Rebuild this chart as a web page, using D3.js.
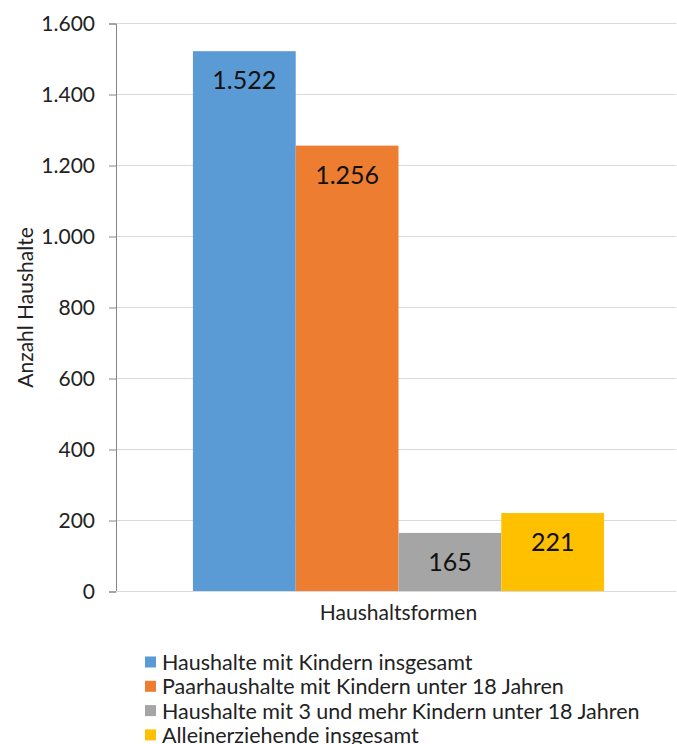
<!DOCTYPE html>
<html><head><meta charset="utf-8">
<script src="https://cdn.jsdelivr.net/npm/d3@7"></script>
<style>body{margin:0;background:#fff}svg{display:block}</style>
</head><body>
<script>
const category = "Haushaltsformen";
const series = ["Haushalte mit Kindern insgesamt","Paarhaushalte mit Kindern unter 18 Jahren","Haushalte mit 3 und mehr Kindern unter 18 Jahren","Alleinerziehende insgesamt"];
const values = [1522, 1256, 165, 221];
const labels = ["1.522","1.256","165","221"];
const colors = ["#5B9BD5","#ED7D31","#A5A5A5","#FFC000"];
const yTicks = [0,200,400,600,800,1000,1200,1400,1600];
const yTickLabels = ["0","200","400","600","800","1.000","1.200","1.400","1.600"];
const yTitle = "Anzahl Haushalte";

const W=677,H=744;
const font="Lato, 'Open Sans', sans-serif";
const svg=d3.select("body").append("svg").attr("width",W).attr("height",H);
const pL=116,pR=676,pT=23.5,pB=591.5;
const y=d3.scaleLinear().domain([0,1600]).range([pB,pT]);
const x0=d3.scaleBand().domain([category]).range([pL+2.5,pR+2.5]).paddingInner(0).paddingOuter(0.181);
const x1=d3.scaleBand().domain(series).range([x0(category),x0(category)+x0.bandwidth()]);

// gridlines
svg.append("g").selectAll("line").data(yTicks).join("line")
 .attr("x1",pL).attr("x2",pR).attr("y1",d=>y(d)).attr("y2",d=>y(d))
 .attr("stroke","#d9d9d9").attr("stroke-width",1);

// y axis
const ya=svg.append("g").attr("transform",`translate(${pL},0)`)
 .call(d3.axisLeft(y).tickValues(yTicks).tickFormat((d,i)=>yTickLabels[i]).tickSize(7).tickPadding(14));
ya.select(".domain").attr("stroke","#868686");
ya.selectAll(".tick line").attr("stroke","#868686");
ya.selectAll("text").attr("font-family",font).attr("font-size",21).attr("fill","#222");

// bars
svg.append("g").selectAll("rect").data(values).join("rect")
 .attr("x",(d,i)=>x1(series[i])).attr("width",x1.bandwidth())
 .attr("y",d=>y(d)).attr("height",d=>pB-y(d)).attr("fill",(d,i)=>colors[i]);

// data labels
svg.append("g").selectAll("text").data(values).join("text")
 .attr("x",(d,i)=>x1(series[i])+x1.bandwidth()/2).attr("y",d=>y(d)+28)
 .attr("text-anchor","middle").attr("dominant-baseline","central")
 .attr("font-family",font).attr("font-size",25).attr("fill","#111")
 .text((d,i)=>labels[i]);

// x axis baseline
svg.append("line").attr("x1",pL).attr("x2",pR).attr("y1",pB).attr("y2",pB).attr("stroke","#d9d9d9");

// category label
svg.append("text").attr("x",x0(category)+x0.bandwidth()/2).attr("y",611)
 .attr("text-anchor","middle").attr("dominant-baseline","central")
 .attr("font-family",font).attr("font-size",21).attr("fill","#222").text(category);

// y title
svg.append("text").attr("transform",`translate(24,${(pT+pB)/2}) rotate(-90)`)
 .attr("text-anchor","middle").attr("dominant-baseline","central")
 .attr("font-family",font).attr("font-size",21).attr("fill","#222").text(yTitle);

// legend
const lg=svg.append("g").selectAll("g").data(series).join("g")
 .attr("transform",(d,i)=>`translate(145,${662+i*24.3})`);
lg.append("rect").attr("x",0).attr("y",-5.5).attr("width",11).attr("height",11).attr("fill",(d,i)=>colors[i]);
lg.append("text").attr("x",17).attr("y",0).attr("dominant-baseline","central")
 .attr("font-family",font).attr("font-size",21.5).attr("fill","#222").text(d=>d);
</script>
</body></html>
